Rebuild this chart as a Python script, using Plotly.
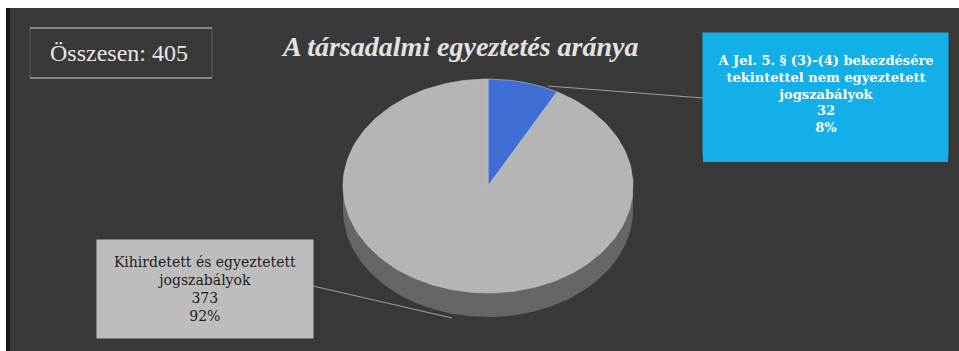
import numpy as np
import plotly.graph_objects as go

# ---- data ----
categories = [
    "A Jel. 5. § (3)-(4) bekezdésére<br>tekintettel nem egyeztetett<br>jogszabályok",
    "Kihirdetett és egyeztetett<br>jogszabályok",
]
values = [32, 373]
slice_colors = ["#3f6fd4", "#b5b5b5"]
side_colors = ["#2a4f99", "#666666"]
title_text = "A társadalmi egyeztetés aránya"
total_label = "Összesen"

W, H = 959, 351
cx, cy, rx, ry, depth = 488, 186, 145, 107, 24

total = sum(values)
fracs = np.array(values) / total
starts = np.concatenate([[0.0], np.cumsum(fracs)[:-1]])
ends = starts + fracs

def pt(theta, dy=0.0):
    return cx + rx * np.sin(theta), cy - ry * np.cos(theta) + dy

fig = go.Figure()

# side walls (visible half: theta in [pi/2, 3pi/2])
for s, e, col in zip(starts, ends, side_colors):
    a0 = max(s * 2 * np.pi, np.pi / 2)
    a1 = min(e * 2 * np.pi, 3 * np.pi / 2)
    if a1 <= a0:
        continue
    t = np.linspace(a0, a1, 120)
    xt, yt = pt(t)
    xb, yb = pt(t[::-1], depth)
    fig.add_trace(go.Scatter(
        x=np.concatenate([xt, xb]), y=np.concatenate([yt, yb]),
        fill="toself", fillcolor=col, mode="lines",
        line=dict(width=0, color=col), hoverinfo="skip", showlegend=False))

# top faces
for s, e, col in zip(starts, ends, slice_colors):
    t = np.linspace(s * 2 * np.pi, e * 2 * np.pi, 200)
    xs, ys = pt(t)
    fig.add_trace(go.Scatter(
        x=np.concatenate([[cx], xs, [cx]]), y=np.concatenate([[cy], ys, [cy]]),
        fill="toself", fillcolor=col, mode="lines",
        line=dict(width=0.6, color="#c8c8c8"), hoverinfo="skip", showlegend=False))

shapes = [
    dict(type="rect", xref="x", yref="y", x0=6, y0=8, x1=W, y1=H,
         fillcolor="#161616", line=dict(width=0), layer="below"),
    dict(type="rect", xref="x", yref="y", x0=10, y0=8, x1=W, y1=H,
         fillcolor="#393939", line=dict(width=0), layer="below"),
    # total box lines
    dict(type="rect", xref="x", yref="y", x0=30, y0=28, x1=212, y1=78,
         fillcolor="rgba(0,0,0,0)", line=dict(width=1, color="#5e5e5e"), layer="below"),
    dict(type="line", xref="x", yref="y", x0=30, y0=28, x1=212, y1=28,
         line=dict(width=1.5, color="#9a9a9a"), layer="below"),
    dict(type="line", xref="x", yref="y", x0=30, y0=78, x1=212, y1=78,
         line=dict(width=1.5, color="#9a9a9a"), layer="below"),
    # leader lines
    dict(type="line", xref="x", yref="y", x0=548, y0=86, x1=703, y1=98,
         line=dict(width=1, color="#a0a0a0"), layer="below"),
    dict(type="line", xref="x", yref="y", x0=313, y0=286, x1=452, y1=318,
         line=dict(width=1, color="#a0a0a0"), layer="below"),
]

pcts = [round(100 * v / total) for v in values]
label_texts = [f"{c}<br>{v}<br>{p}%" for c, v, p in zip(categories, values, pcts)]

serif = "Liberation Serif"
wide_serif = "DejaVu Serif"
annotations = [
    dict(x=459, y=46, xref="x", yref="y", showarrow=False,
         text=f"<b><i>{title_text}</i></b>",
         font=dict(family=serif, size=28, color="#e2e2e2")),
    dict(x=119, y=53, xref="x", yref="y", showarrow=False,
         text=f"{total_label}: {total}",
         font=dict(family=serif, size=24, color="#e6e6e6")),
    dict(x=825.5, y=94, xref="x", yref="y", showarrow=False,
         text=f"<b>{label_texts[0]}</b>", width=245, height=122,
         bgcolor="#13afe8", borderpad=0, valign="middle",
         font=dict(family=wide_serif, size=13, color="#ffffff")),
    dict(x=205, y=289, xref="x", yref="y", showarrow=False,
         text=label_texts[1], width=216, height=98,
         bgcolor="#bdbdbd", borderpad=0, valign="middle",
         font=dict(family=wide_serif, size=14, color="#1e1e1e")),
]

# blue box background extends to full size beneath the (shifted) annotation
shapes.append(dict(type="rect", xref="x", yref="y", x0=703, y0=33, x1=948, y1=162,
                   fillcolor="#13afe8", line=dict(width=0), layer="below"))

fig.update_layout(
    width=W, height=H,
    margin=dict(l=0, r=0, t=0, b=0),
    paper_bgcolor="#ffffff", plot_bgcolor="rgba(0,0,0,0)",
    xaxis=dict(range=[0, W], visible=False, fixedrange=True),
    yaxis=dict(range=[H, 0], visible=False, fixedrange=True),
    shapes=shapes, annotations=annotations, showlegend=False,
)

fig.write_html("out.html")
